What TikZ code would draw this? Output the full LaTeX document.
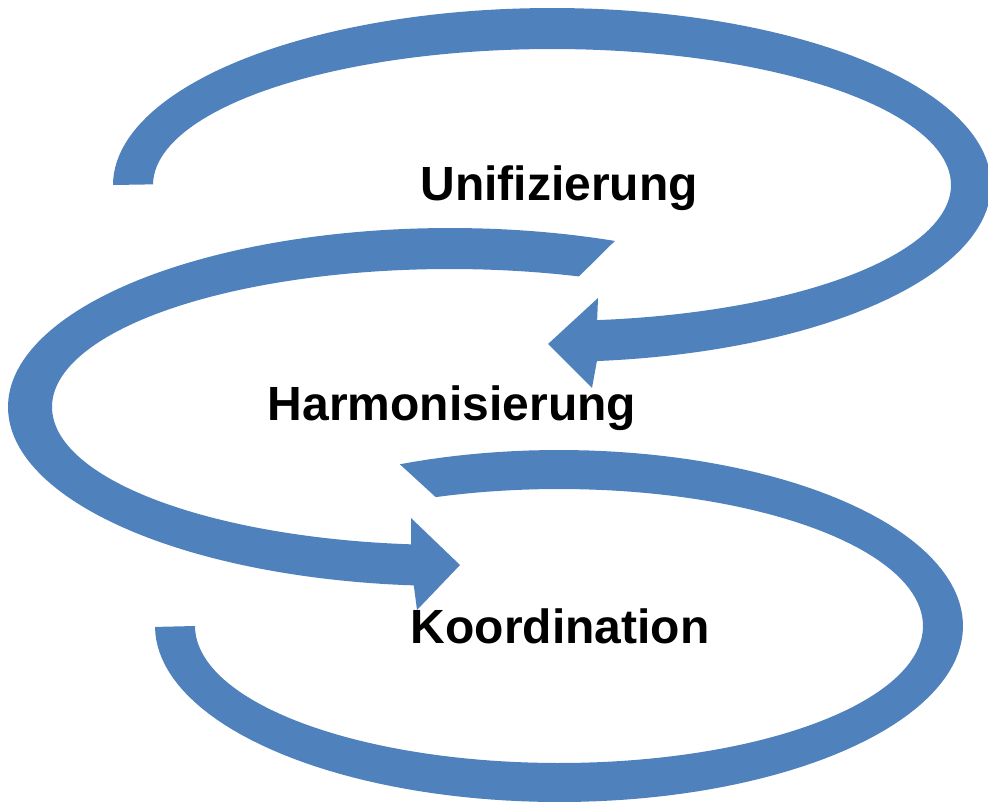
\documentclass[tikz,border=0pt]{standalone}
\usepackage{fontspec}
\setmainfont{Liberation Sans}
\definecolor{bandblue}{HTML}{4F81BD}
\begin{document}
\begin{tikzpicture}[x=0.5pt,y=-0.5pt,
  band/.style={fill=bandblue,draw=none},
  lbl/.style={font=\bfseries\fontsize{24}{28}\selectfont,text=black,inner sep=0pt,anchor=base}]
\useasboundingbox (0,0) rectangle (988,803);

% upper loop: flat tail on the left, arrowhead pointing left
\fill[band]
  plot[domain=0:1,samples=140,variable=\u]
    ({552+439*cos(180+264.4*\u)},{185+177*sin(180+264.4*\u)})
  -- (592,388) -- (548,344) -- (598,298)
  -- plot[domain=0:1,samples=140,variable=\u]
    ({552+399*cos(443.5-263.5*\u)},{185+136*sin(443.5-263.5*\u)})
  -- cycle;

% middle loop: slanted tail at the top, arrowhead pointing right
\fill[band]
  plot[domain=0:1,samples=140,variable=\u]
    ({450+442*cos(291.9-197.4*\u)},{407+179*sin(291.9-197.4*\u)})
  -- (417,610) -- (460,565) -- (411,518)
  -- plot[domain=0:1,samples=140,variable=\u]
    ({450+398*cos(95.6+193.5*\u)},{407+138*sin(95.6+193.5*\u)})
  -- cycle;

% lower loop: slanted tail at the top, flat end on the left
\fill[band]
  plot[domain=0:1,samples=140,variable=\u]
    ({559+404*cos(246.8+293.2*\u)},{626+176*sin(246.8+293.2*\u)})
  -- plot[domain=0:1,samples=140,variable=\u]
    ({559+364*cos(540-290.1*\u)},{626+137*sin(540-290.1*\u)})
  -- cycle;

\node[lbl] (unif) at (559,200) {Unifizierung};
\node[lbl] (harm) at (452,420) {Harmonisierung};
\node[lbl] (koord) at (560,643) {Koordination};
\end{tikzpicture}
\end{document}
